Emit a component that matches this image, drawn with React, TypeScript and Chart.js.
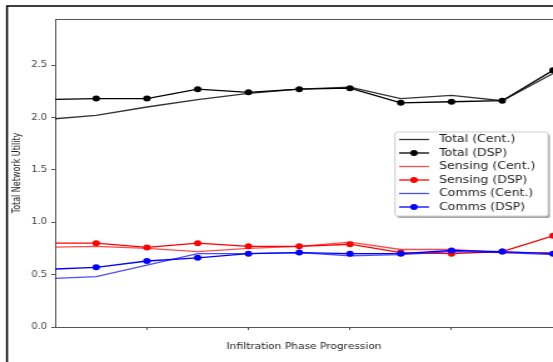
import React, { useEffect, useRef } from 'react';
import { Chart, registerables } from 'chart.js';
Chart.register(...registerables);

const phases = [0, 1, 2, 3, 4, 5, 6, 7, 8, 9, 10];
const totalCent = [1.98, 2.02, 2.10, 2.17, 2.23, 2.27, 2.29, 2.18, 2.21, 2.16, 2.42];
const totalDsp = [2.17, 2.18, 2.18, 2.27, 2.24, 2.27, 2.28, 2.14, 2.15, 2.16, 2.45];
const sensingCent = [0.76, 0.77, 0.75, 0.72, 0.75, 0.77, 0.81, 0.74, 0.74, 0.71, 0.71];
const sensingDsp = [0.80, 0.80, 0.76, 0.80, 0.77, 0.77, 0.79, 0.71, 0.70, 0.72, 0.87];
const commsCent = [0.46, 0.48, 0.59, 0.70, 0.70, 0.71, 0.68, 0.69, 0.72, 0.71, 0.69];
const commsDsp = [0.55, 0.57, 0.63, 0.66, 0.70, 0.71, 0.70, 0.70, 0.73, 0.72, 0.70];
const yTicks = [0, 0.5, 1.0, 1.5, 2.0, 2.5];
const xTicks = [2, 4, 6, 8];
const seriesNames = ['Total (Cent.)', 'Total (DSP)', 'Sensing (Cent.)', 'Sensing (DSP)', 'Comms (Cent.)', 'Comms (DSP)'];
const xTitle = 'Infiltration Phase Progression';
const yTitle = 'Total Network Utility';

const W = 442;
const H = 362;
const S = 553 / W;

const toPts = (arr: number[]) => arr.map((v, i) => ({ x: phases[i], y: v }));

const frameAndLegend = {
  id: 'frameAndLegend',
  beforeDraw(chart: any) {
    const ctx = chart.ctx;
    ctx.save();
    ctx.fillStyle = '#fff';
    ctx.fillRect(0, 0, chart.width, chart.height);
    ctx.strokeStyle = '#000';
    ctx.lineWidth = 1.5;
    ctx.strokeRect(7 / S, 6, 2000, 2000);
    ctx.restore();
  },
  afterDraw(chart: any) {
    const ctx = chart.ctx;
    const a = chart.chartArea;
    ctx.save();
    ctx.strokeStyle = '#555';
    ctx.lineWidth = 1;
    ctx.beginPath();
    ctx.moveTo(a.left, a.top + 0.5);
    ctx.lineTo(a.right, a.top + 0.5);
    ctx.stroke();

    const bx = 395 / S, by = 132, bw = 153 / S, bh = 84;
    const rr = (x: number, y: number, w: number, h: number, r: number) => {
      ctx.beginPath();
      ctx.moveTo(x + r, y);
      ctx.lineTo(x + w - r, y);
      ctx.quadraticCurveTo(x + w, y, x + w, y + r);
      ctx.lineTo(x + w, y + h - r);
      ctx.quadraticCurveTo(x + w, y + h, x + w - r, y + h);
      ctx.lineTo(x + r, y + h);
      ctx.quadraticCurveTo(x, y + h, x, y + h - r);
      ctx.lineTo(x, y + r);
      ctx.quadraticCurveTo(x, y, x + r, y);
      ctx.closePath();
    };
    rr(bx + 1.6, by + 2, bw, bh, 2);
    ctx.fillStyle = 'rgba(0,0,0,0.35)';
    ctx.fill();
    rr(bx, by, bw, bh, 2);
    ctx.fillStyle = '#fff';
    ctx.fill();
    ctx.strokeStyle = '#cfcfcf';
    ctx.lineWidth = 1;
    ctx.stroke();

    const ds = chart.data.datasets;
    ds.forEach((d: any, i: number) => {
      const y = 139.5 + i * 13.5;
      const x0 = 399 / S, x1 = 429 / S;
      ctx.strokeStyle = d.borderColor;
      ctx.lineWidth = d.borderWidth;
      ctx.beginPath();
      ctx.moveTo(x0, y);
      ctx.lineTo(x1, y);
      ctx.stroke();
      if (d.pointRadius > 0) {
        ctx.fillStyle = d.pointBackgroundColor;
        ctx.beginPath();
        ctx.arc((x0 + x1) / 2, y, d.pointRadius, 0, Math.PI * 2);
        ctx.fill();
      }
      ctx.fillStyle = '#222';
      ctx.font = '10px "DejaVu Sans"';
      ctx.textBaseline = 'middle';
      ctx.textAlign = 'left';
      ctx.fillText(d.label, 439 / S, y);
    });
    ctx.restore();
  },
};

export default function App() {
  const ref = useRef<HTMLCanvasElement>(null);
  useEffect(() => {
    const canvas = ref.current!;
    const colors = [
      { c: 'rgba(0,0,0,0.8)', p: 0 },
      { c: '#000000', p: 3 },
      { c: 'rgba(255,0,0,0.7)', p: 0 },
      { c: '#ff0000', p: 3 },
      { c: 'rgba(0,0,255,0.7)', p: 0 },
      { c: '#0000ff', p: 3 },
    ];
    const series = [totalCent, totalDsp, sensingCent, sensingDsp, commsCent, commsDsp];
    const chart = new Chart(canvas, {
      type: 'line',
      data: {
        datasets: series.map((s, i) => ({
          label: seriesNames[i],
          data: toPts(s),
          borderColor: colors[i].c,
          backgroundColor: colors[i].c,
          pointBackgroundColor: colors[i].c,
          pointBorderWidth: 0,
          pointRadius: colors[i].p,
          borderWidth: 1.3,
          tension: 0,
          order: 10 - i,
          clip: { left: 0, right: 10, top: 10, bottom: 0 },
        })),
      },
      options: {
        animation: false,
        responsive: false,
        devicePixelRatio: 1,
        events: [],
        layout: { autoPadding: false, padding: { top: 19, left: 0, right: 0, bottom: 0 } },
        plugins: { legend: { display: false }, tooltip: { enabled: false } },
        scales: {
          x: {
            type: 'linear',
            min: 0.19,
            max: 10,
            afterBuildTicks: (s: any) => { s.ticks = xTicks.map((v) => ({ value: v })); },
            afterFit: (s: any) => { s.height = 35; s.paddingLeft = 0; s.paddingRight = 0; },
            ticks: { callback: () => '', font: { size: 1 } },
            grid: { drawOnChartArea: false, drawTicks: true, tickLength: 3, color: '#555' },
            border: { display: true, color: '#555', width: 1 },
            title: {
              display: true,
              text: xTitle,
              color: '#222',
              font: { family: 'DejaVu Sans', size: 8.5 },
              padding: { top: 0, bottom: 10 },
            },
          },
          y: {
            type: 'linear',
            min: 0,
            max: 2.94,
            afterBuildTicks: (s: any) => { s.ticks = yTicks.map((v) => ({ value: v })); },
            afterFit: (s: any) => { s.width = 44; },
            ticks: {
              callback: (v: any) => Number(v).toFixed(1),
              color: '#444',
              font: { family: 'DejaVu Sans', size: 8 },
              padding: 3.4,
            },
            grid: { drawOnChartArea: false, drawTicks: true, tickLength: 3, color: '#555' },
            border: { display: true, color: '#555', width: 1 },
            title: {
              display: true,
              text: yTitle,
              color: '#222',
              font: { family: 'DejaVu Sans', size: 8 },
              padding: { top: 8.8, bottom: 0 },
            },
          },
        },
      },
      plugins: [frameAndLegend],
    });
    return () => chart.destroy();
  }, []);
  return (
    <div style={{ position: 'fixed', left: 0, top: 0, width: 553, height: H, overflow: 'hidden', background: '#fff' }}>
      <div style={{ width: W, height: H, transform: `scaleX(${S})`, transformOrigin: '0 0' }}>
        <canvas ref={ref} width={W} height={H} style={{ display: 'block', width: W, height: H }} />
      </div>
    </div>
  );
}
